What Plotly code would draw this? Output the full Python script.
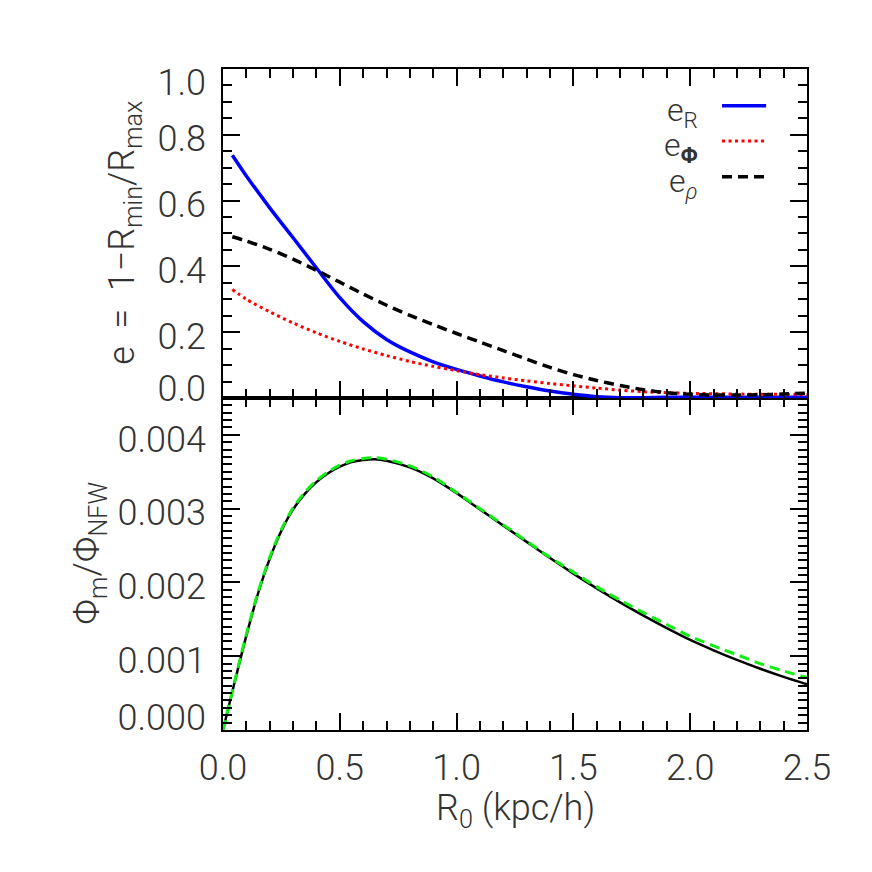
import plotly.graph_objects as go

# top panel: eccentricities vs R0
R_top = [0.04, 0.1, 0.2, 0.3, 0.4, 0.5, 0.6, 0.7, 0.8, 0.9, 1.0, 1.1, 1.2, 1.3,
         1.4, 1.5, 1.6, 1.7, 1.8, 1.9, 2.0, 2.1, 2.2, 2.3, 2.4, 2.5]
e_R = [0.738, 0.675, 0.578, 0.487, 0.395, 0.305, 0.232, 0.178, 0.14, 0.11, 0.087,
       0.067, 0.049, 0.034, 0.021, 0.011, 0.004, 0.001, 0.001, 0.002, 0.002, 0.002,
       0.002, 0.002, 0.002, 0.002]
e_Phi = [0.33, 0.30, 0.262, 0.228, 0.198, 0.172, 0.149, 0.129, 0.111, 0.096, 0.083,
         0.071, 0.061, 0.052, 0.044, 0.037, 0.030, 0.024, 0.019, 0.016, 0.014, 0.013,
         0.012, 0.011, 0.011, 0.010]
e_rho = [0.49, 0.477, 0.452, 0.422, 0.388, 0.352, 0.316, 0.282, 0.251, 0.223, 0.196,
         0.17, 0.144, 0.118, 0.093, 0.071, 0.053, 0.038, 0.025, 0.016, 0.011, 0.009,
         0.009, 0.010, 0.012, 0.015]

# bottom panel: potential ratio
R_bot = [0.0, 0.02, 0.05, 0.1, 0.15, 0.2, 0.25, 0.3, 0.35, 0.4, 0.45, 0.5, 0.55,
         0.6, 0.65, 0.7, 0.8, 0.9, 1.0, 1.1, 1.2, 1.3, 1.4, 1.5, 1.6, 1.7, 1.8,
         1.9, 2.0, 2.1, 2.2, 2.3, 2.4, 2.5]
phi_model = [0.0, 0.00026, 0.00065, 0.00128, 0.00185, 0.00232, 0.0027, 0.00299,
             0.0032, 0.00336, 0.00348, 0.00357, 0.00363, 0.00366, 0.00367, 0.00365,
             0.00356, 0.00341, 0.00321, 0.00299, 0.00277, 0.00255, 0.00233, 0.00212,
             0.00192, 0.00173, 0.00155, 0.00138, 0.00122, 0.00108, 0.00095, 0.00083,
             0.00072, 0.00062]
phi_fit = [0.0, 0.00026, 0.00066, 0.0013, 0.00187, 0.00234, 0.00272, 0.00301,
           0.00322, 0.00338, 0.0035, 0.00359, 0.00365, 0.00368, 0.00369, 0.00367,
           0.00358, 0.00343, 0.00322, 0.003, 0.00278, 0.00256, 0.00234, 0.00214,
           0.00194, 0.00176, 0.00159, 0.00143, 0.00127, 0.00114, 0.00102, 0.0009,
           0.0008, 0.00071]

top_ticktext = ["0.0", "0.2", "0.4", "0.6", "0.8", "1.0"]
bot_ticktext = ["0.000", "0.001", "0.002", "0.003", "0.004"]

FONT = dict(family="Roboto, 'DejaVu Sans', sans-serif", size=36, color="#333",
            weight=300)
LEG_FONT = dict(FONT, size=32)
SPLIT = 0.5023
DOT = "3px,3.5px"
DASH = "10px,6px"

fig = go.Figure()

# top panel
fig.add_trace(go.Scatter(x=R_top, y=e_R, xaxis="x2", yaxis="y", mode="lines",
                         line=dict(color="#0000ff", width=3.5, shape="spline",
                                   smoothing=0.8)))
fig.add_trace(go.Scatter(x=R_top, y=e_Phi, xaxis="x2", yaxis="y", mode="lines",
                         line=dict(color="#ff0000", width=3, dash=DOT,
                                   shape="spline", smoothing=0.8)))
fig.add_trace(go.Scatter(x=R_top, y=e_rho, xaxis="x2", yaxis="y3", mode="lines",
                         line=dict(color="black", width=3.5, dash=DASH,
                                   shape="spline", smoothing=0.8)))

# bottom panel
fig.add_trace(go.Scatter(x=R_bot, y=phi_model, xaxis="x", yaxis="y2", mode="lines",
                         line=dict(color="black", width=2.5, shape="spline",
                                   smoothing=0.8)))
fig.add_trace(go.Scatter(x=R_bot, y=phi_fit, xaxis="x", yaxis="y4", mode="lines",
                         line=dict(color="#11ee11", width=3, dash=DASH,
                                   shape="spline", smoothing=0.8)))

frame = dict(showline=True, linecolor="black", linewidth=2, mirror="ticks",
             ticks="inside", tickwidth=2, ticklen=17, tickcolor="black",
             showgrid=False, zeroline=False)
minor = dict(ticks="inside", ticklen=9, tickwidth=2, tickcolor="black", showgrid=False)

fig.update_layout(
    width=872, height=872, template="none",
    paper_bgcolor="white", plot_bgcolor="white",
    # page body adds ~8px offset, so margins are compensated
    margin=dict(l=215, r=73, t=61, b=150),
    showlegend=False,
    font=FONT,
    xaxis=dict(frame, anchor="y2", range=[0, 2.5], dtick=0.5, tick0=0,
               tickformat=".1f", minor=dict(minor, dtick=0.1),
               tickfont=FONT, ticklabelstandoff=5),
    xaxis2=dict(frame, anchor="y", matches="x", range=[0, 2.5], dtick=0.5,
                minor=dict(minor, dtick=0.1), showticklabels=False),
    yaxis=dict(frame, domain=[SPLIT, 1], anchor="x2", range=[0, 1], dtick=0.2,
               minor=dict(minor, dtick=0.05), showticklabels=False),
    yaxis2=dict(frame, domain=[0, SPLIT], anchor="x", range=[0, 0.0045],
                dtick=0.001, minor=dict(minor, dtick=0.0001), showticklabels=False),
    # label-only axes (labels sit slightly off the tick marks, as in the original)
    yaxis3=dict(overlaying="y", anchor="x2", range=[0, 1], showline=False,
                ticks="", showgrid=False, zeroline=False,
                tickvals=[0.029, 0.188, 0.388, 0.588, 0.788, 0.958],
                ticktext=top_ticktext, tickfont=FONT, ticklabelstandoff=16),
    yaxis4=dict(overlaying="y2", anchor="x", range=[0, 0.0045], showline=False,
                ticks="", showgrid=False, zeroline=False,
                tickvals=[0.000174, 0.000945, 0.001945, 0.002945, 0.003945],
                ticktext=bot_ticktext, tickfont=FONT, ticklabelstandoff=16),
)

# axis titles
fig.add_annotation(text="e\u00a0\u00a0=\u00a0\u00a01\u2212R<sub>min</sub>/R<sub>max</sub>",
                   xref="paper", yref="paper", x=-0.168, y=0.752, textangle=-90,
                   showarrow=False, font=FONT, xanchor="center", yanchor="middle")
fig.add_annotation(text="\u03a6<sub>m</sub>/\u03a6<sub>NFW</sub>",
                   xref="paper", yref="paper", x=-0.228, y=0.268, textangle=-90,
                   showarrow=False, font=FONT, xanchor="center", yanchor="middle")
fig.add_annotation(text="R<sub>0</sub>\u00a0(kpc/h)", xref="paper", yref="paper",
                   x=0.5, y=-0.122, showarrow=False, font=FONT,
                   xanchor="center", yanchor="middle")

# legend: labels on the left, line samples on the right
legend_rows = [("e<sub>R</sub>", "#0000ff", "solid", 3.5, 0.9445),
               ("e<sub><b>\u03a6</b></sub>", "#ff0000", DOT, 3, 0.891),
               ("e<sub><i>\u03c1</i></sub>", "black", DASH, 3.5, 0.837)]
for label, color, dash, width, yy in legend_rows:
    fig.add_annotation(text=label, xref="paper", yref="paper", x=0.817, y=yy - 0.009,
                       showarrow=False, font=LEG_FONT, xanchor="right",
                       yanchor="middle")
    fig.add_shape(type="line", xref="paper", yref="paper", x0=0.8545, x1=0.93,
                  y0=yy, y1=yy, line=dict(color=color, width=width, dash=dash))

fig.write_html("out.html")
